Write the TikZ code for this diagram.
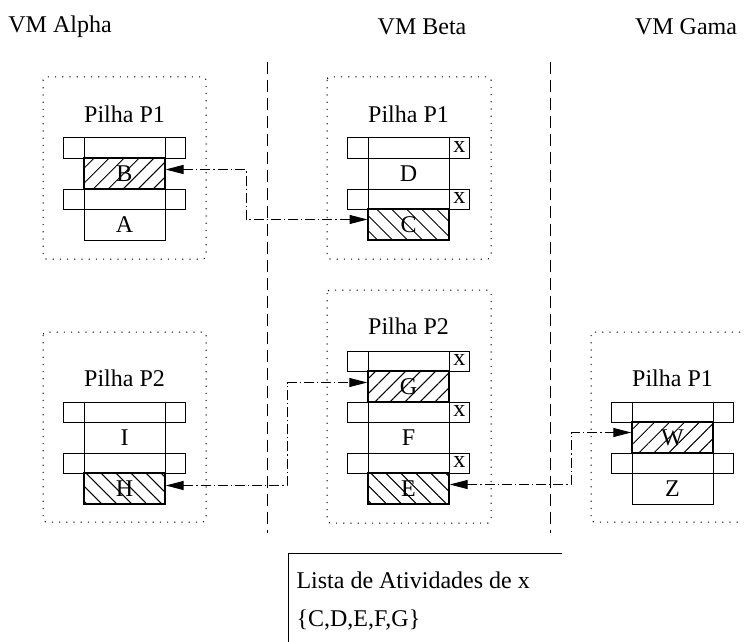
\documentclass[tikz,border=0pt]{standalone}
\usepackage{fontspec}
\setmainfont{Liberation Serif}
\usepackage{tikz}
\usetikzlibrary{arrows.meta, patterns.meta, positioning}

\begin{document}
\begin{tikzpicture}[x=0.5pt, y=-0.5pt, line width=0.5pt,
    every node/.style={font=\fontsize{12}{14}\selectfont},
    bar/.style={draw, rectangle, minimum width=61pt, minimum height=10pt, inner sep=0pt},
    blk/.style={draw, rectangle, minimum width=40.5pt, minimum height=15.5pt, inner sep=0pt},
    hatchR/.style={blk, line width=0.7pt, pattern={Lines[angle=45, distance=5.3pt, line width=0.5pt]}},
    hatchL/.style={blk, line width=0.7pt, pattern={Lines[angle=-45, distance=5.3pt, line width=0.5pt]}},
    vmbox/.style={dash pattern=on 0.6pt off 3pt, rounded corners=1.5pt},
    sep/.style={dash pattern=on 6pt off 3pt},
    link/.style={dash pattern=on 5pt off 1.5pt on 0.6pt off 1.5pt,
        {Triangle[length=9pt, width=4.5pt]}-{Triangle[length=9pt, width=4.5pt]}}]
    \useasboundingbox (0,0) rectangle (744,642);

    \node (alpha) at (60,27) {VM Alpha};
    \node (beta) at (422,27) {VM Beta};
    \node (gama) at (686,27) {VM Gama};

    \draw[sep] (267,62) -- (267,533);
    \draw[sep] (550,62) -- (550,533);

    \draw[vmbox] (43,77) rectangle (206,259);
    \draw[vmbox] (327,77) rectangle (491,259);
    \draw[vmbox] (327,290) rectangle (491,523);
    \draw[vmbox] (43,332) rectangle (206,522);
    \draw[vmbox] (591,332) rectangle (760,522);

    \node (pa1) at (124.5,114) {Pilha P1};
    \node (pb1) at (408.5,114) {Pilha P1};
    \node (pb2) at (408.5,326) {Pilha P2};
    \node (pa2) at (124.5,378) {Pilha P2};
    \node (pg1) at (672.5,378) {Pilha P1};

    \node[bar] (ba1) at (124.5,148) {};
    \node[bar] (ba2) at (124.5,199) {};
    \draw (84,138) rectangle (165,240);
    \node[hatchR] (B) at (124.5,173.5) {B};
    \node[blk] (A) at (124.5,224.5) {A};

    \node[bar] (bb1) at (408.5,148) {};
    \node[bar] (bb2) at (408.5,199) {};
    \draw (368,138) rectangle (449,240);
    \node[blk] (D) at (408.5,173.5) {D};
    \node[hatchL] (C) at (408.5,224.5) {C};
    \node (xd) at (459.25,147) {x};
    \node (xc) at (459.25,198) {x};

    \node[bar] (bb3) at (408.5,361) {};
    \node[bar] (bb4) at (408.5,412) {};
    \node[bar] (bb5) at (408.5,463) {};
    \draw (368,351) rectangle (449,504);
    \node[hatchR] (G) at (408.5,386.5) {G};
    \node[blk] (F) at (408.5,437.5) {F};
    \node[hatchL] (E) at (408.5,488.5) {E};
    \node (xg) at (459.25,360) {x};
    \node (xf) at (459.25,411) {x};
    \node (xe) at (459.25,462) {x};

    \node[bar] (ba3) at (124.5,412) {};
    \node[bar] (ba4) at (124.5,463) {};
    \draw (84,402) rectangle (165,504);
    \node[blk] (I) at (124.5,437.5) {I};
    \node[hatchL] (H) at (124.5,488.5) {H};

    \node[bar] (bg1) at (672.5,412) {};
    \node[bar] (bg2) at (672.5,463) {};
    \draw (632,402) rectangle (713,504);
    \node[hatchR] (W) at (672.5,437.5) {W};
    \node[blk] (Z) at (672.5,488.5) {Z};

    \coordinate (k1) at (246,0);
    \coordinate (k2) at (287,0);
    \coordinate (k3) at (571,0);
    \draw[link] ([yshift=2pt]B.east) -- ([yshift=2pt]B.east -| k1) |- ([yshift=2.5pt]C.west);
    \draw[link] ([yshift=1.5pt]H.east) -- ([yshift=1.5pt]H.east -| k2) |- ([yshift=2pt]G.west);
    \draw[link] ([yshift=2pt]E.east) -- ([yshift=2pt]E.east -| k3) |- ([yshift=2.5pt]W.west);

    \draw (562,553) -- (288,553) -- (288,660);
    \node[anchor=base west, inner sep=0pt] (lista) at (296,588) {Lista de Atividades de x};
    \node[anchor=base west, inner sep=0pt] (ativ) at (296,626) {\{C,D,E,F,G\}};
\end{tikzpicture}
\end{document}
